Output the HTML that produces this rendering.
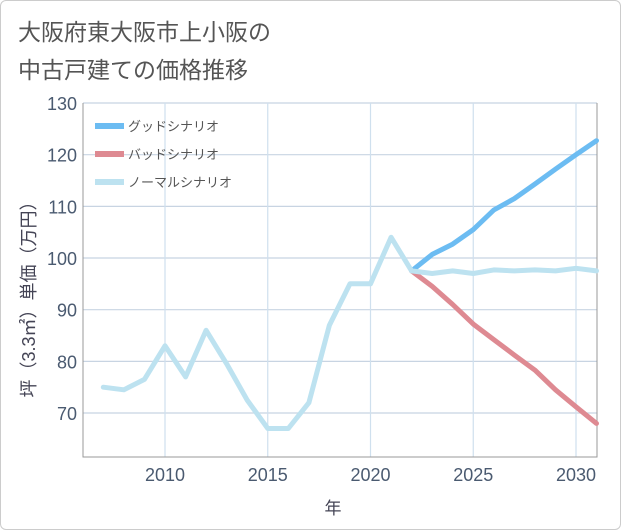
<!DOCTYPE html>
<html><head><meta charset="utf-8">
<style>
body{margin:0;background:#fff;}
#wrap{position:relative;width:619px;height:528px;border:1px solid #ccc;border-radius:6px;overflow:hidden;font-family:"Liberation Sans","Noto Sans CJK JP",sans-serif;}
</style></head>
<body>
<div id="wrap">
<svg id="chart" width="621" height="530" style="position:absolute;left:-1px;top:-1px">
<text x="18" y="40" font-size="23" fill="#555" font-family="Liberation Sans, Noto Sans CJK JP, sans-serif">大阪府東大阪市上小阪の</text>
<text x="18" y="78" font-size="23" fill="#555" font-family="Liberation Sans, Noto Sans CJK JP, sans-serif">中古戸建ての価格推移</text>
<g id="grid"></g>
<g id="axes"></g>
<g id="series"></g>
<g id="legend"></g>
<text x="333" y="514" font-size="17" fill="#445" text-anchor="middle" font-family="Liberation Sans, Noto Sans CJK JP, sans-serif">年</text>
<text transform="translate(35,295) rotate(-90)" font-size="18" fill="#445" text-anchor="middle" font-family="Liberation Sans, Noto Sans CJK JP, sans-serif">坪（3.3㎡）単価（万円）</text>
</svg>
</div>
<script>
const years=[2007,2008,2009,2010,2011,2012,2013,2014,2015,2016,2017,2018,2019,2020,2021,2022,2023,2024,2025,2026,2027,2028,2029,2030,2031];
const normal=[75,74.5,76.5,83,77,86,79.5,72.5,67,67,72,87,95,95,104,97.5,97,97.5,97,97.7,97.5,97.7,97.5,98,97.5];
const fYears=[2022,2023,2024,2025,2026,2027,2028,2029,2030,2031];
const good=[97.5,100.7,102.7,105.5,109.3,111.5,114.3,117.2,120,122.7];
const bad=[97.5,94.5,91,87.2,84.2,81.2,78.3,74.5,71.2,68];
const yTicks=[70,80,90,100,110,120,130];
const xTicks=[2010,2015,2020,2025,2030];
const L=83,R=597,T=103,B=457;
const xs=y=>165+(y-2010)*20.55;
const ys=v=>T+(130-v)*5.167;
const NS='http://www.w3.org/2000/svg';
function mk(t,a,p){const e=document.createElementNS(NS,t);for(const k in a)e.setAttribute(k,a[k]);p.appendChild(e);return e;}
const grid=document.getElementById('grid'),axes=document.getElementById('axes'),ser=document.getElementById('series'),leg=document.getElementById('legend');
yTicks.forEach(v=>{
 const l=mk('line',{x1:L,x2:R,y1:ys(v),y2:ys(v),stroke:'#c8d4e2','stroke-width':1.2},grid);
 
 
 const t=mk('text',{x:77,y:ys(v)+7,'font-size':18,fill:'#4a5a70','text-anchor':'end'},axes);
 t.textContent=v;
 
 
});
xTicks.forEach(y=>{
 const l=mk('line',{x1:xs(y),x2:xs(y),y1:T,y2:B,stroke:'#cfe0ee','stroke-width':1.2},grid);
 
 
});
xTicks.forEach(y=>{
 const t=mk('text',{x:xs(y),y:481,'font-size':18,fill:'#4a5a70','text-anchor':'middle'},axes);
 t.textContent=y;
 
 
});
const ax=mk('path',{d:`M${L},${T}V${B}H${R}V${T}`,fill:'none',stroke:'#999','stroke-width':1},axes);


function line(xa,va,c,w,name){
 const d=xa.map((x,i)=>(i?'L':'M')+xs(x).toFixed(1)+','+ys(va[i]).toFixed(1)).join('');
 const p=mk('path',{d:d,fill:'none',stroke:c,'stroke-width':w,'stroke-linejoin':'round','stroke-linecap':'round'},ser);
 
 
}
line(fYears,good,'#6cbcf2',5,'good-scenario-line');
line(fYears,bad,'#de8a92',5,'bad-scenario-line');
line(years,normal,'#bde2f0',5,'normal-scenario-line');
[['グッドシナリオ','#6cbcf2'],['バッドシナリオ','#de8a92'],['ノーマルシナリオ','#bde2f0']].forEach((e,i)=>{
 const y=126+i*28;
 const r=mk('rect',{x:95,y:y-3,width:29,height:6,fill:e[1]},leg);
 
 
 const t=mk('text',{x:128,y:y+5,'font-size':13,fill:'#555'},leg);
 t.textContent=e[0];
 
 
});
</script>
</body></html>
